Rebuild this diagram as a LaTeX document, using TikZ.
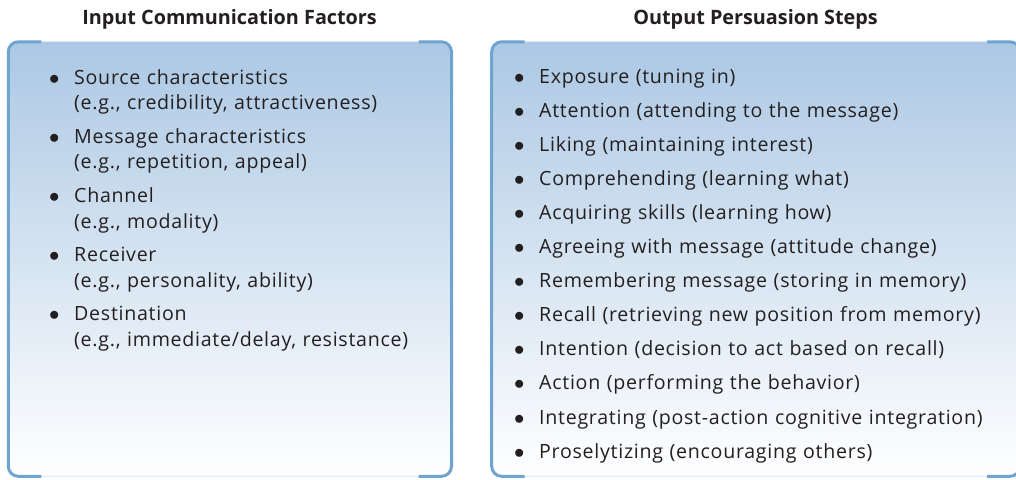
\documentclass[tikz,border=0pt]{standalone}
\usepackage{fontspec}
\setmainfont{Open Sans}[LetterSpace=3.7]
\usetikzlibrary{positioning}
\definecolor{panelblue}{RGB}{172,200,228}
\definecolor{bracketblue}{RGB}{111,164,208}
\definecolor{edgeblue}{RGB}{208,224,240}
\definecolor{inktext}{RGB}{35,31,32}
\newcommand{\bul}{\makebox[27pt][l]{\hspace{2pt}$\bullet$}}
\newcommand{\ind}{\hspace*{27pt}}
\tikzset
{
    panel/.style   = {rectangle, rounded corners=10pt, top color=panelblue, bottom color=white, draw=edgeblue, line width=0.8pt, inner sep=0pt, outer sep=0pt, anchor=north west},
    bracket/.style = {draw=bracketblue, line width=3pt, rounded corners=10pt},
    heading/.style = {font=\fontsize{19.8}{23}\selectfont\bfseries\addfontfeatures{LetterSpace=0}, text=inktext, anchor=base},
    factor/.style  = {text width=400pt, align=left, inner sep=0pt, font=\fontsize{19.6}{25.7}\selectfont, text=inktext, node distance=7.4pt, execute at begin node=\strut, execute at end node=\strut},
    stage/.style   = {factor, text width=490pt, node distance=8pt}
}
\begin{document}
\begin{tikzpicture}[x=1pt, y=1pt]
	\useasboundingbox (0,0) rectangle (1016,-479);
	\node (inpanel)  [panel, minimum width=443.2pt, minimum height=434.5pt] at (8.3,-41.8) {};
	\node (outpanel) [panel, minimum width=528.3pt, minimum height=434.5pt] at (491.7,-41.8) {};
	\draw [bracket] ([xshift=33pt]inpanel.north west) -| (inpanel.south west) -- ([xshift=33pt]inpanel.south west);
	\draw [bracket] ([xshift=-33pt]inpanel.north east) -| (inpanel.south east) -- ([xshift=-33pt]inpanel.south east);
	\draw [bracket] ([xshift=33pt]outpanel.north west) -| (outpanel.south west) -- ([xshift=33pt]outpanel.south west);
	\draw [bracket] ([xshift=-33pt]outpanel.north east) -| (outpanel.south east) -- ([xshift=-33pt]outpanel.south east);

	\node (intitle)  [heading] at (229.6,-24) {Input Communication Factors};
	\node (outtitle) [heading] at (755.6,-24) {Output Persuasion Steps};

	\node (f1) [factor, anchor=base west] at (47,-84) {\bul Source characteristics\\\ind(e.g., credibility, attractiveness)};
	\node (f2) [factor, below=of f1] {\bul Message characteristics\\\ind(e.g., repetition, appeal)};
	\node (f3) [factor, below=of f2] {\bul Channel\\\ind(e.g., modality)};
	\node (f4) [factor, below=of f3] {\bul Receiver\\\ind(e.g., personality, ability)};
	\node (f5) [factor, below=of f4] {\bul Destination\\\ind(e.g., immediate/delay, resistance)};

	\node (s1)  [stage, anchor=base west] at (512,-83) {\bul Exposure (tuning in)};
	\node (s2)  [stage, below=of s1]  {\bul Attention (attending to the message)};
	\node (s3)  [stage, below=of s2]  {\bul Liking (maintaining interest)};
	\node (s4)  [stage, below=of s3]  {\bul Comprehending (learning what)};
	\node (s5)  [stage, below=of s4]  {\bul Acquiring skills (learning how)};
	\node (s6)  [stage, below=of s5]  {\bul Agreeing with message (attitude change)};
	\node (s7)  [stage, below=of s6]  {\bul Remembering message (storing in memory)};
	\node (s8)  [stage, below=of s7]  {\bul Recall (retrieving new position from memory)};
	\node (s9)  [stage, below=of s8]  {\bul Intention (decision to act based on recall)};
	\node (s10) [stage, below=of s9]  {\bul Action (performing the behavior)};
	\node (s11) [stage, below=of s10] {\bul Integrating (post-action cognitive integration)};
	\node (s12) [stage, below=of s11] {\bul Proselytizing (encouraging others)};
\end{tikzpicture}
\end{document}
